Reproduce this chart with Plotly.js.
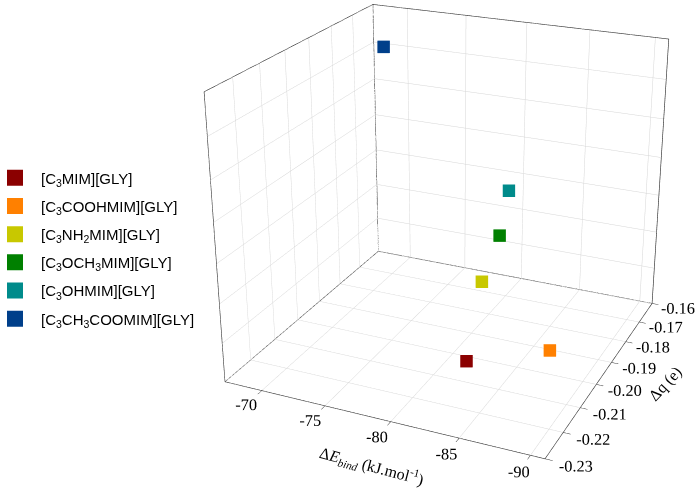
<!DOCTYPE html>
<html><head><meta charset="utf-8">
<script src="https://cdn.plot.ly/plotly-3.0.1.min.js"></script>
<style>html,body{margin:0;padding:0;background:#fff;overflow:hidden;width:699px;height:488px}
#chart{position:absolute;left:-11px;top:-372px;width:922px;height:1160px}</style>
</head><body>
<div id="chart"></div>
<script>
// ---- data ----
const ionicLiquids = [
  '[C<sub>3</sub>MIM][GLY]',
  '[C<sub>3</sub>COOHMIM][GLY]',
  '[C<sub>3</sub>NH<sub>2</sub>MIM][GLY]',
  '[C<sub>3</sub>OCH<sub>3</sub>MIM][GLY]',
  '[C<sub>3</sub>OHMIM][GLY]',
  '[C<sub>3</sub>CH<sub>3</sub>COOMIM][GLY]'
];
const bindEnergy     = [-83.5, -90.0, -84.5, -85.3, -85.7, -68.3];        // ΔE_bind (kJ/mol)
const chargeTransfer = [-0.2165, -0.221, -0.216, -0.213, -0.2115, -0.1625]; // Δq (e)
const level          = [1, 2, 3, 4, 5, 6];                                // unlabelled vertical axis
const energyTicks = [-70, -75, -80, -85, -90];
const chargeTicks = [-0.23, -0.22, -0.21, -0.20, -0.19, -0.18, -0.17, -0.16];
const energyRange = [-91, -67];
const chargeRange = [-0.23, -0.16];
const levelRange  = [0, 7];
const energyTitle = 'Δ<i>E<sub>bind</sub></i> (kJ.mol<sup>-1</sup>)';
const chargeTitle = 'Δq (e)';

const colors = ['#8b0000', '#ff8000', '#c8c800', '#008000', '#008b8b', '#003f8a'];

const traces = [];
ionicLiquids.forEach((nm, i) => {
  traces.push({
    type: 'scatter3d', mode: 'markers', name: nm, legendgroup: 'g' + i, showlegend: false,
    x: [chargeTransfer[i]], y: [bindEnergy[i]], z: [level[i]],
    marker: {symbol: 'square', size: 6.5, color: colors[i], line: {width: 0}},
    hoverinfo: 'skip'
  });
  // legend entry (same series, drawn only in the legend)
  traces.push({
    type: 'scatter', mode: 'markers', name: nm, legendgroup: 'g' + i,
    x: [null], y: [null],
    marker: {symbol: 'square', size: 16, color: colors[i]},
    hoverinfo: 'skip'
  });
});
// back vertical edge of the box
traces.push({
  type: 'scatter3d', mode: 'lines', showlegend: false, hoverinfo: 'skip',
  x: [chargeRange[1], chargeRange[1]], y: [energyRange[1], energyRange[1]], z: levelRange,
  line: {color: '#333', width: 1.3}
});

const serif = {family: 'Liberation Serif, Times New Roman, serif', size: 14, color: '#000'};
const titleFont = {family: 'Liberation Serif, Times New Roman, serif', size: 16, color: '#000'};
const axisCommon = {
  showbackground: false, gridcolor: '#d6d6d6', gridwidth: 1,
  showline: true, linecolor: '#333', linewidth: 1.3, mirror: true,
  ticks: 'outside', ticklen: 6, tickcolor: '#333', tickwidth: 1,
  zeroline: false, showspikes: false, tickfont: serif, tickangle: 0
};

// camera: azimuth 24°, elevation 23°, distance 4 box units
const dist = 4, az = 24 * Math.PI / 180, el = 23 * Math.PI / 180;
const eye = {
  x: -dist * Math.cos(az) * Math.cos(el),
  y: -dist * Math.sin(az) * Math.cos(el),
  z:  dist * Math.sin(el)
};

const layout = {
  width: 922, height: 1160,
  margin: {l: 0, r: 0, t: 0, b: 0},
  paper_bgcolor: '#fff', plot_bgcolor: 'rgba(0,0,0,0)',
  hovermode: false,
  showlegend: true,
  xaxis: {visible: false}, yaxis: {visible: false},
  legend: {
    x: 0, y: 0.5401, xanchor: 'left', yanchor: 'top',
    font: {family: 'Liberation Sans, Arial, sans-serif', size: 15, color: '#000'},
    traceorder: 'grouped', tracegroupgap: 5.7, itemwidth: 42, bgcolor: 'rgba(0,0,0,0)'
  },
  annotations: [
    {text: energyTitle, xref: 'paper', yref: 'paper', x: 0.4154, y: 0.2772,
     xanchor: 'center', yanchor: 'middle', showarrow: false, textangle: 15, font: titleFont},
    {text: chargeTitle, xref: 'paper', yref: 'paper', x: 0.7332, y: 0.3487,
     xanchor: 'center', yanchor: 'middle', showarrow: false, textangle: -47, font: titleFont}
  ],
  scene: {
    domain: {x: [0, 1], y: [0, 1]},
    aspectmode: 'manual', aspectratio: {x: 0.96, y: 0.96, z: 0.857},
    camera: {
      projection: {type: 'perspective'},
      up: {x: 0, y: 0, z: 1},
      center: {x: 0, y: 0, z: 0},
      eye: eye
    },
    xaxis: Object.assign({}, axisCommon, {
      range: chargeRange, tickvals: chargeTicks, ticktext: chargeTicks.map(v => v.toFixed(2)),
      title: {text: ''}
    }),
    yaxis: Object.assign({}, axisCommon, {
      range: energyRange, tickvals: energyTicks, ticktext: energyTicks.map(v => String(v)),
      title: {text: ''}
    }),
    zaxis: Object.assign({}, axisCommon, {
      range: levelRange, dtick: 1, showticklabels: false, ticks: '',
      title: {text: ''}, zeroline: true, zerolinecolor: '#333', zerolinewidth: 1.3
    })
  }
};

Plotly.newPlot('chart', traces, layout, {displayModeBar: false});
</script>
</body></html>
